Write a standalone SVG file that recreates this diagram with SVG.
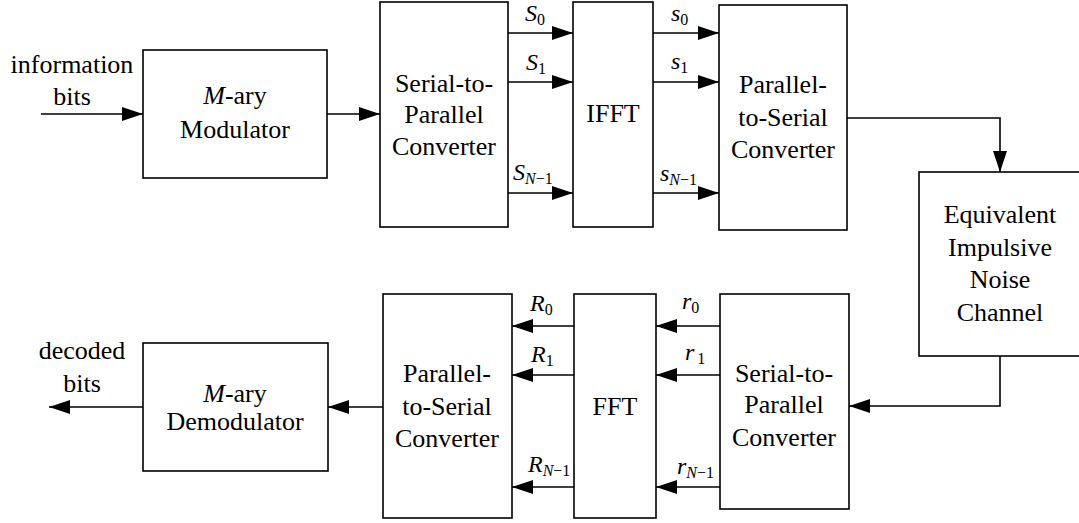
<svg xmlns="http://www.w3.org/2000/svg" width="1079" height="523" viewBox="0 0 1079 523">
<defs>
<marker id="ah" markerUnits="userSpaceOnUse" markerWidth="21" markerHeight="14" refX="21" refY="7" orient="auto">
<path d="M0,0 L21,7 L0,14 z" fill="#000"/>
</marker>
<style>
.box{fill:#fff;stroke:#000;stroke-width:1.6}
.t{font-family:"Liberation Serif","Times New Roman",serif;font-size:26px;text-anchor:middle;fill:#000}
.l{font-family:"Liberation Serif","Times New Roman",serif;font-size:24px;fill:#000}
.i{font-style:italic}
.s{font-size:16px}
.c{fill:none;stroke:#000;stroke-width:1.6;marker-end:url(#ah)}
</style>
</defs>
<rect width="1079" height="523" fill="#fff"/>
<g id="connectors">
<path class="c" d="M41,114 H143"/>
<path class="c" d="M327,114 H380"/>
<path class="c" d="M508,33 H573"/>
<path class="c" d="M508,82 H573"/>
<path class="c" d="M508,193 H573"/>
<path class="c" d="M653,33 H719"/>
<path class="c" d="M653,82 H719"/>
<path class="c" d="M653,193 H719"/>
<path class="c" d="M847,118 H1000 V172"/>
<path class="c" d="M1000,356 V406 H849"/>
<path class="c" d="M720,326 H656"/>
<path class="c" d="M720,375 H656"/>
<path class="c" d="M720,487 H656"/>
<path class="c" d="M574,326 H512"/>
<path class="c" d="M574,375 H512"/>
<path class="c" d="M574,487 H512"/>
<path class="c" d="M383,407 H328"/>
<path class="c" d="M143,407 H49"/>
</g>
<g id="labels-top">
<text class="l" x="525" y="21"><tspan class="i">S</tspan><tspan class="s" dy="4">0</tspan></text>
<text class="l" x="526" y="70"><tspan class="i">S</tspan><tspan class="s" dy="4">1</tspan></text>
<text class="l" x="513" y="180"><tspan class="i">S</tspan><tspan class="s" dy="4"><tspan class="i">N</tspan>−1</tspan></text>
<text class="l" x="671" y="21"><tspan class="i">s</tspan><tspan class="s" dy="4">0</tspan></text>
<text class="l" x="671" y="69"><tspan class="i">s</tspan><tspan class="s" dy="4">1</tspan></text>
<text class="l" x="660" y="181"><tspan class="i">s</tspan><tspan class="s" dy="4"><tspan class="i">N</tspan>−1</tspan></text>
</g>
<g id="labels-bottom">
<text class="l" x="530" y="311"><tspan class="i">R</tspan><tspan class="s" dy="4">0</tspan></text>
<text class="l" x="531" y="362"><tspan class="i">R</tspan><tspan class="s" dy="4">1</tspan></text>
<text class="l" x="528" y="472"><tspan class="i">R</tspan><tspan class="s" dy="4"><tspan class="i">N</tspan>−1</tspan></text>
<text class="l" x="682" y="309"><tspan class="i">r</tspan><tspan class="s" dy="4">0</tspan></text>
<text class="l" x="685" y="360"><tspan class="i">r</tspan><tspan class="s" dy="4" dx="3">1</tspan></text>
<text class="l" x="677" y="474"><tspan class="i">r</tspan><tspan class="s" dy="4"><tspan class="i">N</tspan>−1</tspan></text>
</g>
<g id="in-label">
<text class="t" x="72" y="73">information</text>
<text class="t" x="72" y="105">bits</text>
</g>
<g id="out-label">
<text class="t" x="82" y="359">decoded</text>
<text class="t" x="82" y="392">bits</text>
</g>
<g id="modulator">
<rect class="box" x="143" y="50" width="184" height="128"/>
<text class="t" x="235" y="104"><tspan class="i">M</tspan>-ary</text>
<text class="t" x="235" y="138">Modulator</text>
</g>
<g id="s2p-tx">
<rect class="box" x="380" y="2" width="128" height="225"/>
<text class="t" x="444" y="92">Serial-to-</text>
<text class="t" x="444" y="123">Parallel</text>
<text class="t" x="444" y="155">Converter</text>
</g>
<g id="ifft">
<rect class="box" x="573" y="2" width="80" height="225"/>
<text class="t" x="613" y="122">IFFT</text>
</g>
<g id="p2s-tx">
<rect class="box" x="719" y="5" width="128" height="225"/>
<text class="t" x="783" y="93">Parallel-</text>
<text class="t" x="783" y="126">to-Serial</text>
<text class="t" x="783" y="158">Converter</text>
</g>
<g id="channel">
<rect class="box" x="919" y="172" width="162" height="184"/>
<text class="t" x="1000" y="223">Equivalent</text>
<text class="t" x="1000" y="256">Impulsive</text>
<text class="t" x="1000" y="288">Noise</text>
<text class="t" x="1000" y="321">Channel</text>
</g>
<g id="s2p-rx">
<rect class="box" x="720" y="294" width="129" height="215"/>
<text class="t" x="784" y="382">Serial-to-</text>
<text class="t" x="784" y="413">Parallel</text>
<text class="t" x="784" y="446">Converter</text>
</g>
<g id="fft">
<rect class="box" x="574" y="294" width="82" height="224"/>
<text class="t" x="615" y="415">FFT</text>
</g>
<g id="p2s-rx">
<rect class="box" x="383" y="294" width="129" height="224"/>
<text class="t" x="447" y="382">Parallel-</text>
<text class="t" x="447" y="415">to-Serial</text>
<text class="t" x="447" y="447">Converter</text>
</g>
<g id="demodulator">
<rect class="box" x="143" y="343" width="185" height="128"/>
<text class="t" x="235" y="402"><tspan class="i">M</tspan>-ary</text>
<text class="t" x="235" y="430">Demodulator</text>
</g>
</svg>
